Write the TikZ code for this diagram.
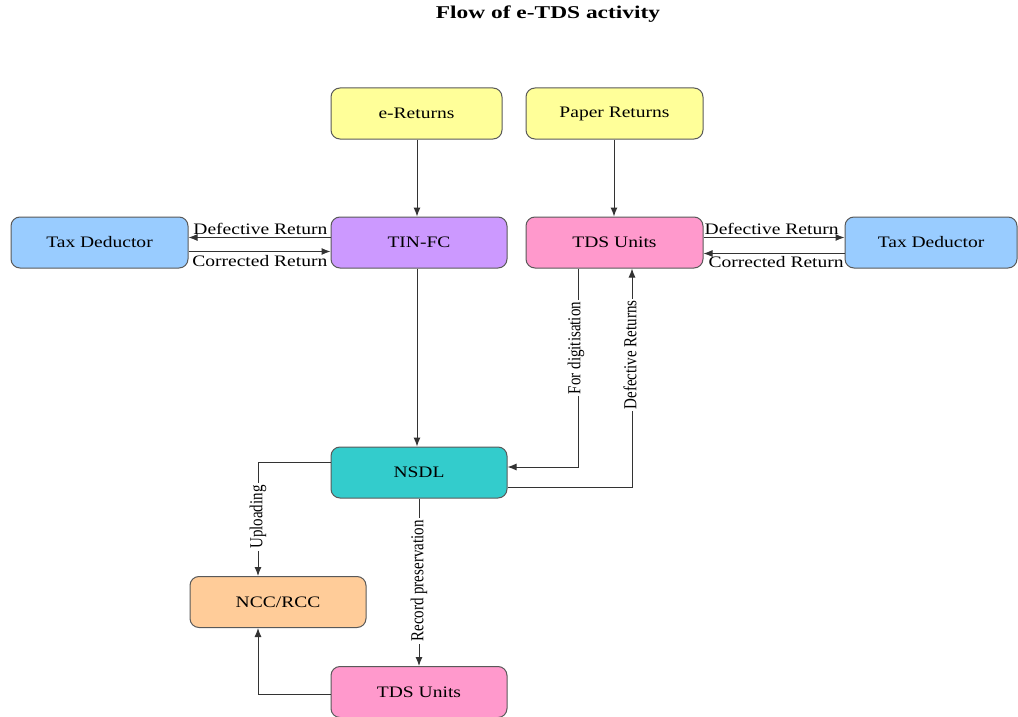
\documentclass[tikz,border=0pt]{standalone}
\usepackage{fontspec}
\setmainfont{Liberation Serif}
\usetikzlibrary{arrows.meta,calc}
\definecolor{cyellow}{HTML}{FFFF99}
\definecolor{cpurple}{HTML}{CC99FF}
\definecolor{cpink}{HTML}{FF99CC}
\definecolor{cblue}{HTML}{99CCFF}
\definecolor{cteal}{HTML}{33CCCC}
\definecolor{corange}{HTML}{FFCC99}
\definecolor{cline}{HTML}{333333}
\newcommand{\hs}[1]{\scalebox{1.22}[1]{#1}}
\newcommand{\vs}[1]{\scalebox{1}[1.22]{#1}}
\tikzset{
  box/.style={draw=gray!70!black, line width=1pt, rounded corners=9pt, minimum height=51pt, inner sep=0pt, font=\fontsize{16}{18}\selectfont},
  conn/.style={draw=cline, line width=1pt, -{Latex[length=9pt,width=7pt]}},
  lbl/.style={font=\fontsize{16}{18}\selectfont, inner sep=1pt},
  vlbl/.style={font=\fontsize{15}{18}\selectfont, inner sep=2pt, fill=white, rotate=90}
}
\begin{document}
\begin{tikzpicture}[x=1pt,y=-1pt]
\useasboundingbox (0,0) rectangle (1018,717);
\node[font=\bfseries\fontsize{18}{20}\selectfont] (title) at (548,14) {\scalebox{1.3}[1]{Flow of e-TDS activity}};

\node[box, fill=cyellow, minimum width=171pt] (eret) at (416.5,113.5) {\hs{e-Returns}};
\node[box, fill=cyellow, minimum width=177pt] (pret) at (614.5,113.5) {\hs{Paper Returns}};
\node[box, fill=cblue, minimum width=177pt] (taxl) at (99.5,242.5) {\hs{Tax Deductor}};
\node[box, fill=cpurple, minimum width=176pt] (tinfc) at (419,242.5) {\hs{TIN-FC}};
\node[box, fill=cpink, minimum width=177pt] (tds1) at (614.5,242.5) {\hs{TDS Units}};
\node[box, fill=cblue, minimum width=172pt] (taxr) at (931,242.5) {\hs{Tax Deductor}};
\node[box, fill=cteal, minimum width=176pt] (nsdl) at (419,472.5) {\hs{NSDL}};
\node[box, fill=corange, minimum width=176pt] (ncc) at (278,602) {\hs{NCC/RCC}};
\node[box, fill=cpink, minimum width=176pt] (tds2) at (419,692) {\hs{TDS Units}};

% top arrows
\draw[conn] (eret.south -| 417,0) -- (tinfc.north -| 417,0);
\draw[conn] (pret.south -| 614,0) -- (tds1.north -| 614,0);

% left tax deductor
\draw[conn] ($(tinfc.west)+(0,-5)$) -- ($(taxl.east)+(0,-5)$);
\draw[conn] ($(taxl.east)+(0,9)$) -- ($(tinfc.west)+(0,9)$);
\node[lbl, anchor=south east] (ldef) at ($(tinfc.west)+(-2,-7)$) {\hs{Defective Return}};
\node[lbl, anchor=north east] (lcor) at ($(tinfc.west)+(-2,12)$) {\hs{Corrected Return}};

% right tax deductor
\draw[conn] ($(tds1.east)+(0,-5)$) -- ($(taxr.west)+(0,-5)$);
\draw[conn] ($(taxr.west)+(0,11)$) -- ($(tds1.east)+(0,11)$);
\node[lbl, anchor=south west] (rdef) at ($(tds1.east)+(0,-7)$) {\hs{Defective Return}};
\node[lbl, anchor=north west] (rcor) at ($(tds1.east)+(4,13)$) {\hs{Corrected Return}};

% TIN-FC to NSDL
\draw[conn] (tinfc.south -| 417,0) -- (nsdl.north -| 417,0);

% digitisation
\coordinate (dig1) at (578,467);
\draw[conn] (tds1.south -| dig1) -- (dig1) -- (nsdl.east |- dig1);
\node[vlbl] (diglbl) at (576,348) {\vs{For digitisation}};

% defective returns back
\coordinate (def1) at (632,487);
\draw[conn] (nsdl.east |- def1) -- (def1) -- (tds1.south -| def1);
\node[vlbl] (deflbl) at (630,355) {\vs{Defective Returns}};

% uploading
\coordinate (up1) at (258,462);
\draw[conn] (nsdl.west |- up1) -- (up1) -- (ncc.north -| up1);
\node[vlbl] (uplbl) at (258,517) {\vs{Uploading}};

% record preservation
\draw[conn] (nsdl.south -| 419,0) -- (tds2.north -| 419,0);
\node[vlbl] (reclbl) at (419,581) {\vs{Record preservation}};

% bottom tds to ncc
\coordinate (bt1) at (258,694);
\draw[conn] (tds2.west |- bt1) -- (bt1) -- (ncc.south -| bt1);
\end{tikzpicture}
\end{document}
